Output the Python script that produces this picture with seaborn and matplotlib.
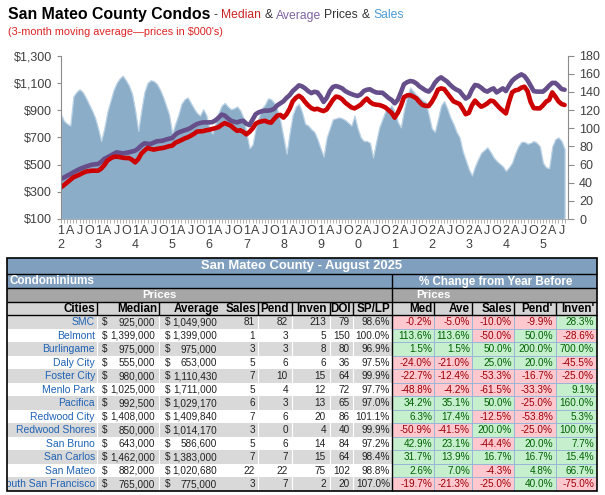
import matplotlib
matplotlib.use("Agg")
import matplotlib.pyplot as plt
import seaborn as sns
import numpy as np
import pandas as pd
from matplotlib.patches import Rectangle

# ---------------- chart data (3-month moving averages, $000's) ----------------
START_YEAR = 2012
median_k = [
    333, 350, 369, 388, 406, 416, 426, 438, 448, 452, 455, 455,
    455, 470, 495, 529, 545, 556, 558, 555, 550, 548, 548, 535,
    516, 540, 580, 602, 622, 615, 610, 615, 619, 622, 628, 635,
    639, 660, 670, 680, 692, 700, 712, 725, 742, 744, 746, 752,
    756, 762, 768, 775, 792, 805, 795, 785, 765, 748, 752, 740,
    722, 740, 765, 800, 812, 818, 822, 812, 808, 835, 860, 865,
    845, 870, 910, 965, 990, 1006, 990, 960, 935, 915, 905, 910,
    900, 893, 905, 940, 975, 1000, 995, 980, 955, 938, 920, 913,
    925, 940, 965, 985, 960, 945, 940, 938, 930, 920, 900, 880,
    845, 880, 930, 995, 1008, 1011, 1000, 987, 960, 938, 932, 930,
    960, 1000, 1050, 1060, 1055, 1025, 995, 965, 955, 945, 910, 870,
    880, 935, 970, 945, 925, 935, 950, 970, 965, 940, 915, 895,
    876, 960, 1030, 1045, 1050, 1065, 1072, 1040, 960, 915, 913, 913,
    935, 962, 975, 1030, 1000, 965, 945, 938,
]
average_k = [
    394, 405, 418, 430, 443, 455, 467, 476, 485, 492, 499, 502,
    504, 520, 541, 553, 565, 578, 590, 586, 582, 586, 590, 596,
    602, 618, 640, 656, 653, 651, 661, 671, 673, 676, 684, 690,
    695, 720, 735, 744, 752, 759, 770, 785, 798, 805, 810, 810,
    810, 812, 825, 845, 867, 860, 840, 822, 815, 810, 818, 822,
    800, 790, 830, 870, 884, 892, 896, 896, 900, 910, 935, 950,
    965, 990, 1010, 1040, 1060, 1082, 1075, 1060, 1040, 1025, 1035, 1030,
    1000, 960, 990, 1040, 1070, 1077, 1070, 1060, 1040, 1028, 1018, 1010,
    1004, 1015, 1040, 1050, 1053, 1040, 1030, 1028, 1028, 1010, 990, 975,
    950, 975, 1030, 1090, 1105, 1114, 1110, 1097, 1075, 1060, 1045, 1036,
    1060, 1100, 1126, 1141, 1125, 1109, 1085, 1065, 1050, 1040, 1011, 985,
    1000, 1050, 1085, 1080, 1065, 1045, 1036, 1050, 1060, 1030, 1045, 1060,
    1040, 1080, 1115, 1135, 1150, 1163, 1150, 1120, 1080, 1040, 1036, 1036,
    1036, 1055, 1080, 1100, 1100, 1080, 1055, 1050,
]
sales = [
    115, 108, 105, 103, 135, 140, 143, 140, 134, 127, 120, 112,
    100, 86, 100, 118, 130, 142, 150, 155, 158, 153, 147, 138,
    120, 97, 120, 140, 150, 153, 152, 149, 143, 135, 125, 115,
    94, 105, 115, 127, 132, 134, 128, 122, 117, 114, 121, 115,
    100, 94, 105, 117, 125, 128, 124, 121, 122, 124, 120, 112,
    95, 78, 82, 100, 112, 122, 126, 133, 132, 128, 120, 108,
    90, 72, 95, 115, 124, 127, 118, 105, 103, 99, 96, 88,
    78, 69, 90, 100, 110, 111, 112, 111, 109, 106, 103, 114,
    100, 90, 86, 86, 84, 68, 85, 101, 110, 119, 122, 125,
    118, 107, 101, 120, 135, 145, 141, 137, 134, 131, 129, 115,
    100, 96, 110, 125, 130, 122, 112, 105, 96, 90, 75, 65,
    55, 48, 58, 66, 73, 76, 79, 74, 68, 64, 61, 58,
    53, 57, 62, 72, 80, 85, 85, 83, 84, 86, 84, 80,
    62, 57, 56, 80, 88, 90, 86, 77,
]
price_ticks = [100, 300, 500, 700, 900, 1100, 1300]
sales_ticks = [0, 20, 40, 60, 80, 100, 120, 140, 160, 180]
quarter_letters = {3: "A", 6: "J", 9: "O"}

# ---------------- table data ----------------
table_title = "San Mateo County - August 2025"
cities = ["SMC", "Belmont", "Burlingame", "Daly City", "Foster City", "Menlo Park",
          "Pacifica", "Redwood City", "Redwood Shores", "San Bruno", "San Carlos",
          "San Mateo", "South San Francisco"]
median_price = ["925,000", "1,399,000", "975,000", "555,000", "980,000", "1,025,000",
                "992,500", "1,408,000", "850,000", "643,000", "1,462,000", "882,000", "765,000"]
average_price = ["1,049,900", "1,399,000", "975,000", "653,000", "1,110,430", "1,711,000",
                 "1,029,170", "1,409,840", "1,014,170", "586,600", "1,383,000", "1,020,680", "775,000"]
sales_n = [81, 1, 3, 5, 7, 5, 6, 7, 3, 5, 7, 22, 3]
pend_n = [82, 3, 3, 6, 10, 4, 3, 6, 0, 6, 7, 22, 7]
inven_n = [213, 5, 8, 6, 15, 12, 13, 20, 4, 14, 15, 75, 2]
doi_n = [79, 150, 80, 36, 64, 72, 65, 86, 40, 84, 64, 102, 20]
splp = ["98.6%", "100.0%", "96.9%", "97.5%", "99.9%", "97.7%", "97.0%", "101.1%",
        "99.9%", "97.2%", "98.4%", "98.8%", "107.0%"]
chg_med = [-0.2, 113.6, 1.5, -24.0, -22.7, -48.8, 34.2, 6.3, -50.9, 42.9, 31.7, 2.6, -19.7]
chg_ave = [-5.0, 113.6, 1.5, -21.0, -12.4, -4.2, 35.1, 17.4, -41.5, 23.1, 13.9, 7.0, -21.3]
chg_sales = [-10.0, -50.0, 50.0, 25.0, -53.3, -61.5, 50.0, -12.5, 200.0, -44.4, 16.7, -4.3, -25.0]
chg_pend = [-9.9, 50.0, 200.0, 20.0, -16.7, -33.3, -25.0, -53.8, -25.0, 20.0, 16.7, 4.8, 40.0]
chg_inven = [28.3, -28.6, 700.0, -45.5, -25.0, 9.1, 160.0, 5.3, 100.0, 7.7, 15.4, 66.7, -75.0]
left_headers = ["Cities", "Median", "Average", "Sales", "Pend", "Inven", "DOI", "SP/LP"]
right_headers = ["Med", "Ave", "Sales", "Pend'", "Inven'"]

# ---------------- style ----------------
sns.set_theme(style="white")
plt.rcParams['font.family'] = ['Liberation Sans', 'DejaVu Sans']

W, H = 605, 495
fig = plt.figure(figsize=(W / 100, H / 100), dpi=100)
fig.patch.set_facecolor("white")


def fx(px):
    return px / W


def fy(py):
    return 1 - py / H


n = len(median_k)
df = pd.DataFrame({"m": np.arange(n), "Median": median_k,
                   "Average": average_k, "Sales": sales})

# ---------------- chart ----------------
ax = fig.add_axes([fx(61), fy(219), fx(568) - fx(61), fy(55.7) - fy(219)])
ax2 = ax.twinx()
ax2.fill_between(df["m"], df["Sales"], 0, facecolor="#8badc8",
                 edgecolor="#bcd3e6", linewidth=0.9)
ax2.set_ylim(0, 180)
ax2.set_yticks(sales_ticks)
ax2.set_yticklabels([str(v) for v in sales_ticks])
ax.set_zorder(ax2.get_zorder() + 1)
ax.patch.set_visible(False)

sns.lineplot(data=df, x="m", y="Average", ax=ax, color="#654e89", linewidth=3.3)
sns.lineplot(data=df, x="m", y="Median", ax=ax, color="#cc0000", linewidth=3.3)
ax.set_ylim(100, 1300)
ax.set_yticks(price_ticks)
ax.set_yticklabels([f"${v:,}" for v in price_ticks])
ax.set_xlim(0, 164.1)

major, labels = [], []
for m in range(n):
    yr, mo = START_YEAR + m // 12, m % 12
    if mo == 0:
        s = str(yr)
        major.append(m)
        labels.append(f"{s[2]}\n{s[3]}")
    elif mo in quarter_letters:
        major.append(m)
        labels.append(quarter_letters[mo])
ax.set_xticks(major)
ax.set_xticklabels(labels, linespacing=1.25)
ax.set_xticks(range(n), minor=True)
ax.set_xlabel("")
ax.set_ylabel("")
ax2.set_ylabel("")

for sp in ["top", "right"]:
    ax.spines[sp].set_visible(False)
ax.spines["left"].set_color("#8c8c8c")
ax.spines["left"].set_linewidth(0.8)
ax.spines["bottom"].set_color("#a6a6a6")
ax.spines["bottom"].set_linewidth(0.6)
for sp in ["top", "left", "bottom"]:
    ax2.spines[sp].set_visible(False)
ax2.spines["right"].set_color("#8c8c8c")
ax2.spines["right"].set_linewidth(0.8)

ax.tick_params(axis="y", which="major", left=True, length=3, width=0.8,
               color="#8c8c8c", labelsize=9, labelcolor="#404040", pad=3.5)
ax.tick_params(axis="x", which="both", bottom=True, length=3, width=0.6,
               color="#a0a0a0", labelsize=9, labelcolor="#404040", pad=1.5)
ax2.tick_params(axis="y", which="major", right=True, length=4, width=0.8,
                color="#8c8c8c", labelsize=9, labelcolor="#404040", pad=4)

# ---------------- title ----------------
renderer = fig.canvas.get_renderer()


def seq_text(x, y, parts):
    for s, c, fs, w in parts:
        if s == " ":
            x += 0.25 * fs * 100 / 72
            continue
        t = fig.text(fx(x), fy(y), s, color=c, fontsize=fs, fontweight=w,
                     ha="left", va="baseline")
        x += t.get_window_extent(renderer).width + 0.04 * fs


dk = "#333333"
seq_text(8, 18.5, [
    ("San Mateo County Condos", "black", 11.4, "bold"), (" ", dk, 8.7, "normal"),
    ("-", dk, 8.7, "normal"), (" ", dk, 8.7, "normal"),
    ("Median", "#cc2222", 8.7, "normal"), (" ", dk, 8.7, "normal"),
    ("&", dk, 8.7, "normal"), (" ", dk, 8.7, "normal"),
    ("Average", "#8064a2", 8.7, "normal"), (" ", dk, 8.7, "normal"),
    ("Prices", dk, 8.7, "normal"), (" ", dk, 8.7, "normal"),
    ("&", dk, 8.7, "normal"), (" ", dk, 8.7, "normal"),
    ("Sales", "#4a9bd6", 8.7, "normal"),
])
fig.text(fx(8), fy(35), "(3-month moving average\u2014prices in $000's)",
         color="#dd2222", fontsize=7.8, ha="left", va="baseline")

# ---------------- table ----------------
tb = fig.add_axes([0, 0, 1, 1], zorder=10)
tb.set_xlim(0, W)
tb.set_ylim(H, 0)
tb.axis("off")
tb.patch.set_visible(False)

L, R, MID = 7, 597, 392
T0, R1, R2, R3, R4 = 257.5, 274, 288, 301.5, 315
RH = 13.5
B = R4 + RH * len(cities)
BLUE = "#809fbe"


def rect(x0, y0, x1, y1, fc):
    tb.add_patch(Rectangle((x0, y0), x1 - x0, y1 - y0, facecolor=fc,
                           edgecolor="none", zorder=1))


def hline(y, x0, x1, c="black", lw=1.0):
    tb.plot([x0, x1], [y, y], color=c, lw=lw, zorder=3, solid_capstyle="butt")


def vline(x, y0, y1, c="black", lw=1.0):
    tb.plot([x, x], [y0, y1], color=c, lw=lw, zorder=3, solid_capstyle="butt")


rect(L, T0, R, R2, BLUE)
rect(L, R2, R, R3, "#a6a6a6")
rect(L, R3, R, R4, "#d4d4d4")

left_cols = [97, 159, 258, 292, 330, 353]
right_cols = [434, 472, 514, 556]

for i in range(len(cities)):
    y0 = R4 + i * RH
    y1 = y0 + RH
    rect(L, y0, MID, y1, "#d9d9d9" if i % 2 == 0 else "white")
    vals = [chg_med[i], chg_ave[i], chg_sales[i], chg_pend[i], chg_inven[i]]
    edges = [MID] + right_cols + [R]
    for j, v in enumerate(vals):
        rect(edges[j], y0, edges[j + 1], y1, "#ffc7ce" if v < 0 else "#c6efce")

# right-section light grid
for i in range(1, len(cities)):
    hline(R4 + i * RH, MID, R, c="#9ab6d8", lw=0.7)
for x in right_cols:
    vline(x, R4, B, c="#9ab6d8", lw=0.7)
# left data separators (white)
for x in left_cols:
    vline(x, R4, B, c="white", lw=0.8)

# black structure lines
for y in [R1, R2, R3, R4]:
    hline(y, L, R)
vline(MID, R1, B)
for x in left_cols:
    vline(x, R3, R4)
for x in right_cols:
    vline(x, R3, R4)
tb.add_patch(Rectangle((L, T0), R - L, B - T0, facecolor="none",
                       edgecolor="black", lw=1.2, zorder=4))

# header texts
tb.text((L + R) / 2, (T0 + R1) / 2 + 0.5, table_title, color="white",
        fontsize=9.4, fontweight="bold", ha="center", va="center", zorder=5)
tb.text(10, (R1 + R2) / 2 + 0.5, "Condominiums", color="white", fontsize=8.4,
        fontweight="bold", ha="left", va="center", zorder=5)
tb.text(496, (R1 + R2) / 2 + 0.5, "% Change from Year Before", color="white",
        fontsize=8.4, fontweight="bold", ha="center", va="center", zorder=5)
tb.text(159, (R2 + R3) / 2 + 0.5, "Prices", color="white", fontsize=8.2,
        fontweight="bold", ha="center", va="center", zorder=5)
tb.text(433, (R2 + R3) / 2 + 0.5, "Prices", color="white", fontsize=8.2,
        fontweight="bold", ha="center", va="center", zorder=5)

lh_x = [95, 157, 219, 256, 289, 327, 351, 390]
for s, x in zip(left_headers, lh_x):
    tb.text(x, (R3 + R4) / 2 + 0.5, s, color="black", fontsize=8.4,
            fontweight="bold", ha="right", va="center", zorder=5)
rh_x = [432, 470, 512, 553, 594]
for s, x in zip(right_headers, rh_x):
    tb.text(x, (R3 + R4) / 2 + 0.5, s, color="black", fontsize=8.4,
            fontweight="bold", ha="right", va="center", zorder=5)

clip = Rectangle((L + 0.5, T0), R - L, B - T0, transform=tb.transData)
FS_CITY = 7.5
FS = 7.2
for i, c in enumerate(cities):
    yc = R4 + i * RH + RH / 2 + 0.5
    t = tb.text(95, yc, c, color="#1f63b5", fontsize=FS_CITY, ha="right",
                va="center", zorder=5, clip_on=True)
    t.set_clip_path(clip)
    tb.text(102, yc, "$", color="#222222", fontsize=FS, ha="left", va="center", zorder=5)
    tb.text(155, yc, median_price[i], color="#222222", fontsize=FS, ha="right", va="center", zorder=5)
    tb.text(164.5, yc, "$", color="#222222", fontsize=FS, ha="left", va="center", zorder=5)
    tb.text(217, yc, average_price[i], color="#222222", fontsize=FS, ha="right", va="center", zorder=5)
    for v, x in zip([sales_n[i], pend_n[i], inven_n[i], doi_n[i]], [255, 288, 326, 350]):
        tb.text(x, yc, str(v), color="#222222", fontsize=FS, ha="right", va="center", zorder=5)
    tb.text(390, yc, splp[i], color="#222222", fontsize=FS, ha="right", va="center", zorder=5)
    vals = [chg_med[i], chg_ave[i], chg_sales[i], chg_pend[i], chg_inven[i]]
    for v, x in zip(vals, rh_x):
        tb.text(x, yc, f"{v:.1f}%", color="#9c0006" if v < 0 else "#006100",
                fontsize=FS, ha="right", va="center", zorder=5)

fig.savefig("out.png", dpi=100)
